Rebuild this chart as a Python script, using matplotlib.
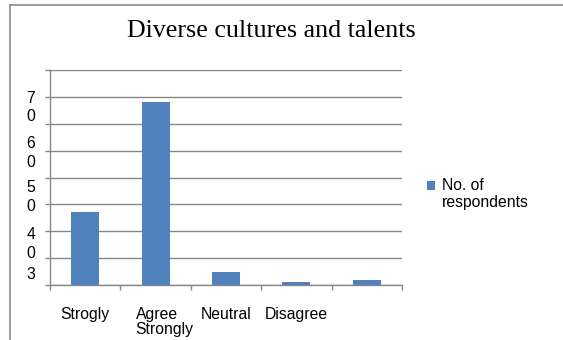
import matplotlib
matplotlib.use("Agg")
import matplotlib.pyplot as plt
import matplotlib.transforms as mtransforms
from matplotlib.lines import Line2D
from matplotlib.patches import Rectangle
from matplotlib.container import BarContainer
from matplotlib.legend_handler import HandlerPatch

# Survey responses
categories = ["Strogly", "Agree\nStrongly", "Neutral", "Disagree", ""]
respondents = [27, 68, 5, 1, 2]

# Value axis: gridlines every 10, and the (wrapped) labels printed beside it
y_grid = [0, 10, 20, 30, 40, 50, 60, 70, 80]
y_label_text = ["7\n0", "6\n0", "5\n0", "4\n0", "3"]
y_label_at = [66.0, 49.1, 32.7, 15.3, 4.0]

title = "Diverse cultures and talents"
series_name = "No. of\nrespondents"

W, H = 563, 340
BAR = "#4F81BD"
GRID = "#878787"
FRAME = "#8c8c8c"
FS = 11.3

plt.rcParams["font.family"] = ["Liberation Sans", "DejaVu Sans"]

fig = plt.figure(figsize=(W / 100, H / 100), dpi=100)
fig.patch.set_facecolor("white")

# chart frame (top and left edges)
fig.add_artist(Line2D([10 / W, 1.0], [1 - 5 / H, 1 - 5 / H],
                      transform=fig.transFigure, color=FRAME, lw=1.2))
fig.add_artist(Line2D([10 / W, 10 / W], [0.0, 1 - 5 / H],
                      transform=fig.transFigure, color=FRAME, lw=1.2))

ax = fig.add_axes([50 / W, 55 / H, 352 / W, 215 / H])
x = list(range(len(categories)))
ax.bar(x, respondents, width=0.4, color=BAR, label=series_name, zorder=3)

ax.set_xlim(-0.5, len(categories) - 0.5)
ax.set_ylim(y_grid[0], y_grid[-1])
ax.set_axisbelow(True)

ax.set_yticks(y_grid)
ax.set_yticklabels([])
ax.yaxis.grid(True, color=GRID, linewidth=1.0)

ax.set_xticks([i - 0.5 for i in range(len(categories) + 1)])
ax.set_xticklabels([])
ax.set_xticks(x, minor=True)
ax.set_xticklabels(categories, minor=True, fontsize=FS, linespacing=1.0,
                   multialignment="left")
ax.tick_params(axis="x", which="minor", length=0, pad=15.5)
ax.tick_params(axis="both", which="major", length=3.6, width=1.0, color=GRID)

for lbl in ax.xaxis.get_minorticklabels():
    if "\n" in lbl.get_text():
        lbl.set_transform(lbl.get_transform() +
                          mtransforms.ScaledTranslation(0.09, 0, fig.dpi_scale_trans))

for side in ("top", "right"):
    ax.spines[side].set_visible(False)
for side in ("left", "bottom"):
    ax.spines[side].set_color(GRID)
    ax.spines[side].set_linewidth(1.0)

# value labels beside the axis
trans = mtransforms.blended_transform_factory(ax.transAxes, ax.transData)
for txt, yv in zip(y_label_text, y_label_at):
    ax.text((31 - 50) / 352, yv, txt, transform=trans, ha="center", va="center",
            fontsize=FS, linespacing=1.3, multialignment="left")

fig.text(271 / W, 1 - 37 / H, title, ha="center", va="baseline",
         fontsize=18.7, family=["Liberation Serif", "DejaVu Serif"])


# legend key sits level with the first line of the label
def top_square(legend, orig_handle, xdescent, ydescent, width, height, fontsize):
    return Rectangle((-xdescent, -ydescent + 6.5), width, height)


def style_from_bar(legend_handle, orig_handle):
    legend_handle.update_from(orig_handle.patches[0])


ax.legend(loc="upper left", bbox_to_anchor=(427 / W, 1 - 178 / H),
          bbox_transform=fig.transFigure, frameon=False, fontsize=FS,
          handlelength=0.52, handleheight=0.52, handletextpad=0.42,
          borderpad=0, borderaxespad=0,
          handler_map={BarContainer: HandlerPatch(patch_func=top_square,
                                                  update_func=style_from_bar)})

fig.savefig("out.png", dpi=100, facecolor="white")
